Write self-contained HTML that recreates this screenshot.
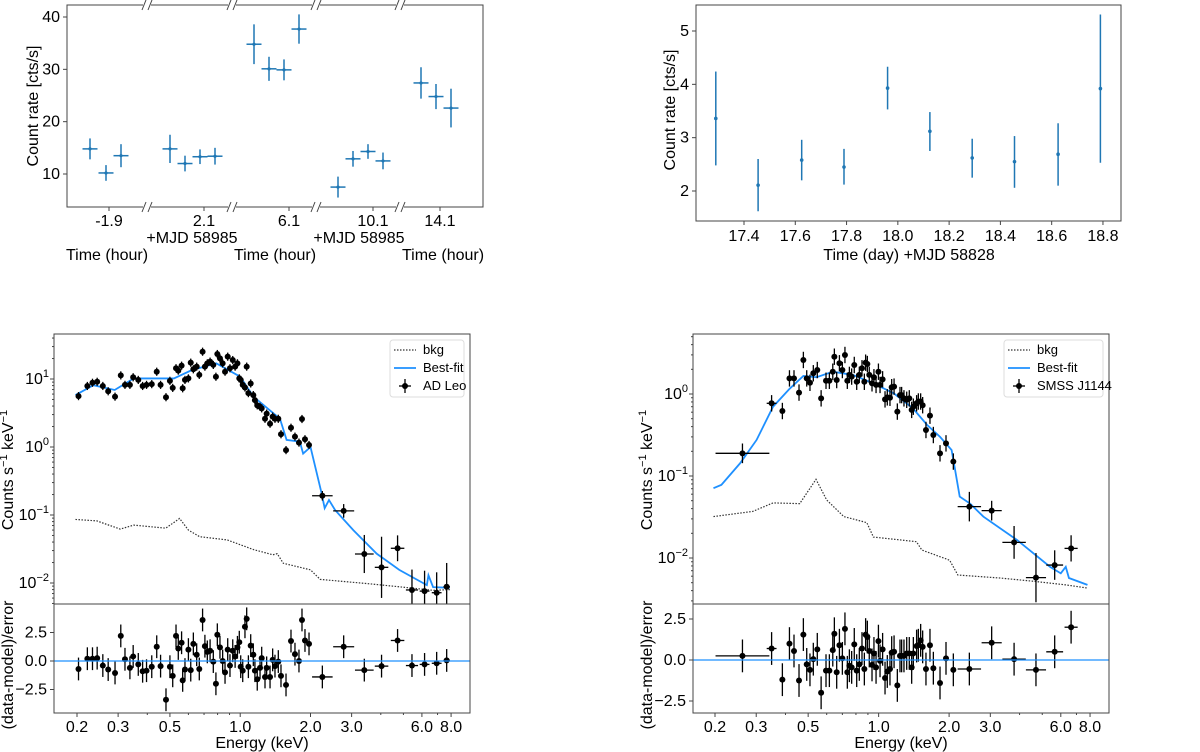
<!DOCTYPE html>
<html><head><meta charset="utf-8"><style>
body{margin:0;background:#fff}
svg{display:block;font-family:"Liberation Sans","DejaVu Sans",sans-serif}
text{fill:#000}
</style></head><body>
<svg id="fig" width="1200" height="752" viewBox="0 0 1200 752" xmlns="http://www.w3.org/2000/svg"></svg>
<script>
// ---------- Top-left light curve (broken axis) ----------
const lcTicks = [-1.9, 2.1, 6.1, 10.1, 14.1];
const lcTimes = [-2.28,-1.96,-1.66, 1.42,1.72,2.02,2.32, 5.40,5.70,6.00,6.30, 9.40,9.70,10.00,10.30, 13.72,14.02,14.32];
const lcRates = [14.8,10.2,13.5, 14.8,12.0,13.3,13.4, 34.8,30.1,29.9,37.7, 7.5,12.9,14.3,12.5, 27.4,24.8,22.6];
const lcErrs  = [2.0,1.5,2.2, 2.7,1.5,1.4,1.6, 3.8,2.3,2.0,2.8, 2.0,1.5,1.4,1.6, 3.0,2.4,3.7];
const lcTErr = 0.15;
const lcYTicks = [10,20,30,40];
// ---------- Top-right light curve ----------
const trDays = [17.29,17.455,17.625,17.79,17.96,18.125,18.29,18.455,18.625,18.79];
const trRates = [3.36,2.11,2.58,2.45,3.93,3.12,2.62,2.55,2.69,3.92];
const trLo = [2.48,1.62,2.20,2.12,3.53,2.75,2.25,2.06,2.10,2.53];
const trHi = [4.24,2.60,2.96,2.79,4.33,3.48,2.98,3.03,3.27,5.31];
const trXTicks = [17.4,17.6,17.8,18.0,18.2,18.4,18.6,18.8];
const trYTicks = [2,3,4,5];
// ---------- AD Leo spectrum ----------
const adE = [0.203,0.2215,0.233,0.244,0.258,0.272,0.291,0.308,0.321,0.337,0.348,0.366,0.382,0.397,0.418,0.439,0.456,0.481,0.500,0.514,0.531,0.543,0.561,0.567,0.580,0.600,0.614,0.630,0.651,0.668,0.690,0.706,0.723,0.743,0.767,0.787,0.798,0.819,0.841,0.861,0.884,0.904,0.929,0.951,0.973,0.991,1.005,1.025,1.048,1.066,1.084,1.109,1.138,1.156,1.183,1.216,1.236,1.277,1.298,1.342,1.377,1.409,1.456,1.495,1.571,1.650,1.716,1.785,1.839,1.894,1.971,2.248,2.774,3.40,4.03,4.72,5.44,6.16,6.94,7.66];
const adV = [5.6,7.9,8.8,9.1,7.9,6.6,5.5,11.3,8.2,8.2,10.6,9.7,7.9,8.2,8.4,12.8,8.2,5.4,9.4,7.4,14.4,13.3,15.7,7.3,9.7,10.2,17.4,13.9,15.2,11.5,25.2,15.2,17.0,18.0,16.1,10.8,23.3,20.1,17.0,12.8,21.3,14.4,19.0,15.2,17.0,10.2,9.7,8.2,7.5,15.2,6.2,8.6,5.8,4.9,4.1,3.9,3.7,2.6,3.1,2.2,2.8,2.6,2.6,1.54,0.90,1.92,1.42,1.16,2.58,1.30,1.07,0.192,0.115,0.0267,0.0170,0.0324,0.0079,0.0076,0.0072,0.0088];
const adRes = [-0.7,0.2,0.2,0.25,-0.4,-0.75,-1.05,2.2,0.15,-0.6,0.4,-0.3,-0.9,-0.85,-0.5,1.25,-0.45,-3.4,-0.5,-1.3,2.2,1.1,1.6,-1.7,-0.75,1.0,-0.8,1.5,0.55,-0.7,3.6,1.3,0.8,0.9,-0.05,-2.0,2.3,1.2,0,-1.0,1.0,-0.4,0.9,0.4,1.2,1.65,-0.5,-0.85,3.0,3.7,-0.5,1.35,0.55,-0.85,-1.6,-0.6,0.25,-1.4,-0.6,-1.4,0.1,-0.45,-0.05,-1.3,-2.1,1.75,0.6,0,3.6,1.8,1.5,-1.4,1.25,-0.8,-0.45,1.8,-0.4,-0.3,-0.2,0.05];
const adHighE = [2.248,2.774,3.40,4.03,4.72,5.44,6.16,6.94,7.66];
const adHighXErr = [0.044,0.045,0.040,0.029,0.029,0.026,0.021,0.021,0.014];
const adHighYErr = [0.07,0.10,0.28,0.45,0.19,0.3,0.3,0.3,0.35];
const adModelE = [0.197,0.235,0.29,0.35,0.52,0.62,0.79,1.0,1.14,1.48,1.58,1.8,1.86,2.0,2.23,2.3,2.4,2.55,3.05,3.84,4.8,6.3,6.4,6.7,7.9];
const adModelV = [5.8,8.1,6.9,10.2,10.2,13.5,17,10.8,5.5,2.6,1.27,1.2,0.8,1.0,0.21,0.126,0.166,0.118,0.06,0.027,0.0156,0.0093,0.013,0.0087,0.0085];
const adBkgE = [0.197,0.243,0.306,0.35,0.48,0.55,0.6,0.67,0.88,1.14,1.38,1.44,1.53,2.0,2.2,3.5,4.8,6.7,7.9];
const adBkgV = [0.086,0.082,0.062,0.071,0.064,0.089,0.06,0.048,0.043,0.031,0.026,0.027,0.0195,0.0156,0.0113,0.0098,0.0088,0.0078,0.008];
// ---------- SMSS J1144 spectrum ----------
const smE = [0.262,0.349,0.388,0.416,0.435,0.457,0.477,0.493,0.509,0.526,0.547,0.568,0.596,0.616,0.637,0.647,0.662,0.680,0.700,0.718,0.735,0.750,0.767,0.787,0.806,0.827,0.849,0.869,0.880,0.895,0.912,0.937,0.955,0.975,0.998,1.014,1.040,1.065,1.089,1.118,1.137,1.164,1.202,1.234,1.254,1.283,1.318,1.352,1.384,1.407,1.453,1.478,1.512,1.542,1.593,1.657,1.713,1.829,1.940,2.085,2.441,3.04,3.79,4.70,5.65,6.64];
const smV = [0.189,0.77,0.62,1.55,1.55,1.04,2.6,1.55,1.37,1.79,1.96,0.885,1.45,1.45,1.87,2.85,1.48,2.37,1.96,2.99,1.45,1.71,1.63,2.26,1.41,1.71,2.06,1.41,2.41,2.32,1.71,1.35,1.60,1.29,1.87,1.29,1.51,0.86,0.91,0.90,1.21,1.23,0.61,0.97,0.97,0.885,0.85,0.885,0.64,0.70,0.77,0.81,0.81,0.73,0.364,0.544,0.316,0.189,0.250,0.150,0.0423,0.0378,0.0155,0.00576,0.0082,0.0131];
const smRes = [0.25,0.7,-1.2,1.0,0.55,-1.25,1.55,-0.27,-0.6,0.05,0.65,-2.0,-0.65,-0.65,0.6,1.6,-0.75,0.9,0.1,1.9,-0.75,-0.35,-0.45,0.95,-0.65,-0.27,0.7,-0.55,1.55,1.4,0.55,-0.3,0.4,-0.45,1.15,-0.05,0.65,-1.1,-0.7,-0.55,0.45,0.5,-1.55,0.25,0.25,0.25,0.4,0.4,-0.45,0.4,0.85,0.9,1.2,0.8,-0.55,0.9,-0.5,-1.4,0.1,-0.6,-0.55,1.05,0.05,-0.6,0.5,2.0];
const smHighE = [0.262,0.349,2.441,3.04,3.79,4.70,5.65,6.64];
const smHighXErr = [0.115,0.021,0.05,0.043,0.05,0.043,0.036,0.028];
const smHighYErr = [0.12,0.1,0.18,0.12,0.2,0.3,0.18,0.16];
const smModelE = [0.197,0.213,0.256,0.301,0.354,0.418,0.477,0.543,0.638,0.78,0.95,1.16,1.4,1.61,1.83,2.05,2.11,2.22,2.46,2.8,3.9,5.4,6.0,6.3,6.5,7.8];
const smModelV = [0.071,0.078,0.143,0.275,0.70,1.17,1.66,1.6,1.87,1.7,1.35,1.02,0.67,0.42,0.30,0.207,0.13,0.056,0.046,0.032,0.0166,0.0078,0.0065,0.0078,0.0057,0.0047];
const smBkgE = [0.197,0.29,0.354,0.46,0.54,0.6,0.71,0.89,0.95,1.24,1.45,1.53,2.01,2.18,3.3,4.6,6.3,7.8];
const smBkgV = [0.032,0.037,0.047,0.046,0.091,0.051,0.032,0.027,0.018,0.0166,0.0158,0.0125,0.0094,0.0062,0.0057,0.0052,0.0047,0.0043];
const eTicks = [0.2,0.3,0.5,1.0,2.0,3.0,6.0,8.0];
const eMinor = [0.4,0.6,0.7,0.8,0.9,4,5,7];

const NS = "http://www.w3.org/2000/svg";
const svg = document.getElementById('fig');
function el(tag, attrs, parent){ const e=document.createElementNS(NS,tag); for(const k in attrs) e.setAttribute(k,attrs[k]); (parent||svg).appendChild(e); return e; }
function txt(s,x,y,attrs,parent){ const t=el('text',Object.assign({x:x,y:y,'font-size':15},attrs||{}),parent); t.textContent=s; return t; }
const BLUE='#1f77b4', FIT='#1e90ff';

// ===== Top-left =====
const tlL=67,tlR=483,tlT=5,tlB=207;
const lcTickPx=[109,204,289,373,440];
function tlX(t){ const i=Math.max(0,Math.min(4,Math.round((t+1.9)/4))); return lcTickPx[i]+(t-lcTicks[i])*50; }
function tlY(v){ return 174-(v-10)*5.233; }
const gTL=el('g',{});


el('rect',{x:tlL,y:tlT,width:tlR-tlL,height:tlB-tlT,fill:'none',stroke:'#444','stroke-width':1},gTL);
[147,232,316,400].forEach(bx=>{ [tlT,tlB].forEach(by=>{ const b=el('rect',{x:bx-4,y:by-5,width:8,height:10,fill:'#fff'},gTL);  
 el('line',{x1:bx-5,y1:by+5,x2:bx-1,y2:by-5,stroke:'#444'},gTL); el('line',{x1:bx+1,y1:by+5,x2:bx+5,y2:by-5,stroke:'#444'},gTL);});});
let t;
lcYTicks.forEach(v=>{ const y=tlY(v); el('line',{x1:tlL-4,y1:y,x2:tlL,y2:y,stroke:'#444'},gTL); t=txt(String(v),tlL-7,y+5,{'text-anchor':'end','font-size':16},gTL);   });
lcTicks.forEach((v,i)=>{ const x=tlX(v); el('line',{x1:x,y1:tlB,x2:x,y2:tlB+4,stroke:'#444'},gTL); t=txt(String(v),x,226,{'text-anchor':'middle','font-size':16},gTL);   });
lcTimes.forEach((tm,i)=>{ const x=tlX(tm), y=tlY(lcRates[i]);
 const g=el('g',{},gTL);
 
 
 el('line',{x1:x,y1:tlY(lcRates[i]-lcErrs[i]),x2:x,y2:tlY(lcRates[i]+lcErrs[i]),stroke:BLUE,'stroke-width':1.5},g);
 el('line',{x1:tlX(tm-lcTErr),y1:y,x2:tlX(tm+lcTErr),y2:y,stroke:BLUE,'stroke-width':1.5},g);
 el('circle',{cx:x,cy:y,r:1.6,fill:BLUE},g);});
t=txt('Count rate [cts/s]',0,0,{'text-anchor':'middle','font-size':16,transform:'translate(38,106) rotate(-90)'},gTL);  
[[192,'+MJD 58985'],[359,'+MJD 58985']].forEach(a=>{ t=txt(a[1],a[0],243,{'text-anchor':'middle','font-size':16},gTL);  });
[107,275,443].forEach(x=>{ t=txt('Time (hour)',x,260,{'text-anchor':'middle','font-size':16},gTL);  });

// ===== Top-right =====
const trL=696,trR=1121,trT=5,trB=221;
function trX(d){ return 744+(d-17.4)*256.4; }
function trY(v){ return 191-(v-2)*53.33; }
const gTR=el('g',{});


el('rect',{x:trL,y:trT,width:trR-trL,height:trB-trT,fill:'none',stroke:'#444'},gTR);
trYTicks.forEach(v=>{ const y=trY(v); el('line',{x1:trL-4,y1:y,x2:trL,y2:y,stroke:'#444'},gTR); t=txt(String(v),trL-7,y+5,{'text-anchor':'end','font-size':16},gTR);  });
trXTicks.forEach(v=>{ const x=trX(v); el('line',{x1:x,y1:trB,x2:x,y2:trB+4,stroke:'#444'},gTR); t=txt(v.toFixed(1),x,241,{'text-anchor':'middle','font-size':16},gTR);  });
trDays.forEach((d,i)=>{ const x=trX(d);
 const g=el('g',{},gTR);
 
 
 el('line',{x1:x,y1:trY(trLo[i]),x2:x,y2:trY(trHi[i]),stroke:BLUE,'stroke-width':1.5},g);
 el('circle',{cx:x,cy:trY(trRates[i]),r:1.8,fill:BLUE},g);});
t=txt('Count rate [cts/s]',0,0,{'text-anchor':'middle','font-size':16,transform:'translate(675,110) rotate(-90)'},gTR);  
t=txt('Time (day) +MJD 58828',909,260,{'text-anchor':'middle','font-size':16},gTR);  

// ===== Spectrum panels =====
function spectrum(o){
 const g=el('g',{});
 
 
 const X=e=>o.x0+o.dec*Math.log10(e/0.2);
 const Y=v=>o.y1-o.ppd*Math.log10(v);
 const R=r=>o.r0-o.rpu*r;
 const clipId=o.name+'-clip', clipId2=o.name+'-clip2';
 const defs=el('defs',{},g);
 const cp=el('clipPath',{id:clipId},defs); el('rect',{x:o.L,y:o.T,width:o.R-o.L,height:o.M-o.T},cp);
 const cp2=el('clipPath',{id:clipId2},defs); el('rect',{x:o.L,y:o.M,width:o.R-o.L,height:o.B-o.M},cp2);
 for(let d=-3; d<=2; d++) for(let m=1;m<10;m++){ const y=Y(m*Math.pow(10,d)); if(y<o.T||y>o.M) continue;
  el('line',{x1:o.L-(m===1?4:2),y1:y,x2:o.L,y2:y,stroke:'#444'},g);
  if(m===1){ const tt=txt('10',o.L-5,y+5,{'text-anchor':'end','font-size':16},g); const s=el('tspan',{'font-size':11,dy:-7},tt); s.textContent=(d<0?'\u2212':'')+Math.abs(d);
     } }
 const bk=el('polyline',{points:o.bE.map((e,i)=>X(e)+','+Y(o.bV[i])).join(' '),fill:'none',stroke:'#333','stroke-width':1.2,'stroke-dasharray':'1.5,1.5','clip-path':'url(#'+clipId+')'},g);
  
 const fm=el('polyline',{points:o.mE.map((e,i)=>X(e)+','+Y(o.mV[i])).join(' '),fill:'none',stroke:FIT,'stroke-width':1.8,'clip-path':'url(#'+clipId+')'},g);
  
 const pts=el('g',{'clip-path':'url(#'+clipId+')'},g);
  
 const rpts=el('g',{'clip-path':'url(#'+clipId2+')'},g);
  
 o.E.forEach((e,i)=>{ const k=o.hE.indexOf(e); const xe=k>=0?o.hX[k]:0.006; const ye=k>=0?o.hY[k]:(o.defYErr);
  const x=X(e), y=Y(o.V[i]);
  el('line',{x1:x,y1:Y(o.V[i]*Math.pow(10,-ye)),x2:x,y2:Y(o.V[i]*Math.pow(10,ye)),stroke:'#000','stroke-width':1.3},pts);
  el('line',{x1:X(e*Math.pow(10,-xe)),y1:y,x2:X(e*Math.pow(10,xe)),y2:y,stroke:'#000','stroke-width':1.3},pts);
  el('circle',{cx:x,cy:y,r:3,fill:'#000'},pts);
  const ry=R(o.res[i]);
  el('line',{x1:x,y1:R(o.res[i]-1),x2:x,y2:R(o.res[i]+1),stroke:'#000','stroke-width':1.3},rpts);
  el('line',{x1:X(e*Math.pow(10,-xe)),y1:ry,x2:X(e*Math.pow(10,xe)),y2:ry,stroke:'#000','stroke-width':1.3},rpts);
  el('circle',{cx:x,cy:ry,r:3,fill:'#000'},rpts);
 });
 const zl=el('line',{x1:o.L,y1:R(0),x2:o.R,y2:R(0),stroke:FIT,'stroke-width':1.3},g);
  
 el('rect',{x:o.L,y:o.T,width:o.R-o.L,height:o.M-o.T,fill:'none',stroke:'#444'},g);
 el('rect',{x:o.L,y:o.M,width:o.R-o.L,height:o.B-o.M,fill:'none',stroke:'#444'},g);
 o.rTicks.forEach(r=>{ const y=R(r); el('line',{x1:o.L-4,y1:y,x2:o.L,y2:y,stroke:'#444'},g); const tt=txt((r<0?'\u2212':'')+Math.abs(r).toFixed(1),o.L-7,y+5,{'text-anchor':'end','font-size':16},g);  });
 eTicks.forEach(e=>{ const x=X(e); el('line',{x1:x,y1:o.B,x2:x,y2:o.B+4,stroke:'#444'},g); const tt=txt(e.toFixed(1),x,o.B+19,{'text-anchor':'middle','font-size':16},g);  });
 eMinor.forEach(e=>{ const x=X(e); el('line',{x1:x,y1:o.B,x2:x,y2:o.B+2,stroke:'#444'},g);});
 let tt=txt('Energy (keV)',(o.L+o.R)/2,748,{'text-anchor':'middle','font-size':16},g);  
 tt=txt('Counts s',0,0,{'text-anchor':'middle','font-size':16,transform:'translate('+o.ylx+',470) rotate(-90)'},g);
 let s=el('tspan',{'font-size':11,dy:-6},tt); s.textContent='\u22121'; s=el('tspan',{dy:6},tt); s.textContent=' keV'; s=el('tspan',{'font-size':11,dy:-6},tt); s.textContent='\u22121';
  
 tt=txt('(data-model)/error',0,0,{'text-anchor':'middle','font-size':16,transform:'translate('+o.ylx+',665) rotate(-90)'},g);  
 const lg=el('g',{},g);  
 el('rect',{x:o.lx,y:340,width:o.lw,height:57,rx:3,fill:'#fff',stroke:'#ddd'},lg);
 el('line',{x1:o.lx+4,y1:350,x2:o.lx+26,y2:350,stroke:'#333','stroke-width':1.2,'stroke-dasharray':'1.5,1.5'},lg);
 el('line',{x1:o.lx+4,y1:368,x2:o.lx+26,y2:368,stroke:FIT,'stroke-width':1.8},lg);
 el('line',{x1:o.lx+15,y1:379,x2:o.lx+15,y2:393,stroke:'#000','stroke-width':1.3},lg);
 el('line',{x1:o.lx+9,y1:386,x2:o.lx+21,y2:386,stroke:'#000','stroke-width':1.3},lg);
 el('circle',{cx:o.lx+15,cy:386,r:3,fill:'#000'},lg);
 [['bkg',354],['Best-fit',372],[o.label,390]].forEach(a=>{ const e=txt(a[0],o.lx+33,a[1],{'font-size':13},lg);  });
}
spectrum({name:'ad-leo-spectrum',L:54,R:470,T:334,M:604,B:713,x0:77,dec:233.5,y1:447,ppd:68,r0:661,rpu:11.4,rTicks:[-2.5,0,2.5],
 E:adE,V:adV,res:adRes,hE:adHighE,hX:adHighXErr,hY:adHighYErr,defYErr:0.06,mE:adModelE,mV:adModelV,bE:adBkgE,bV:adBkgV,lx:390,lw:74,label:'AD Leo',ylx:13});
spectrum({name:'smss-j1144-spectrum',L:693,R:1109,T:334,M:604,B:713,x0:715,dec:234.1,y1:394,ppd:82,r0:660,rpu:16.4,rTicks:[-2.5,0,2.5],
 E:smE,V:smV,res:smRes,hE:smHighE,hX:smHighXErr,hY:smHighYErr,defYErr:0.1,mE:smModelE,mV:smModelV,bE:smBkgE,bV:smBkgV,lx:1004,lw:99,label:'SMSS J1144',ylx:652});
</script>
</body></html>
